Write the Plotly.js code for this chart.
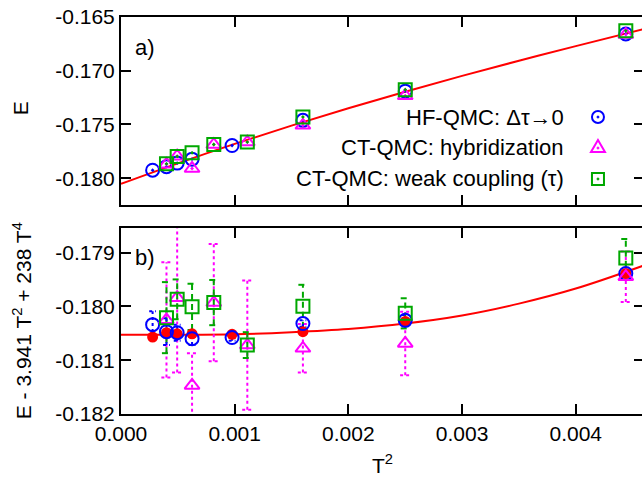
<!DOCTYPE html>
<html><head><meta charset="utf-8">
<script src="https://cdn.plot.ly/plotly-3.0.1.min.js"></script>
<style>html,body{margin:0;padding:0;overflow:hidden;background:#fff}</style>
</head><body><div id="chart"></div>
<script>
// ---- data ----
const hfT2   = [0.000278, 0.000400, 0.000494, 0.000625, 0.000977, 0.001600, 0.002500, 0.004440];
const hfE    = [-0.17926, -0.17893, -0.17860, -0.17823, -0.17696, -0.17462, -0.17190, -0.16658];
const hfRes  = [-0.18034, -0.18047, -0.18049, -0.18060, -0.18058, -0.18032, -0.18026, -0.17939];
const hfErr  = [0.00025, 0.00025, 0.00015, 0.00012, 0.00006, 0.00006, 0.00010, 0.00005];

const hybT2  = [0.000400, 0.000494, 0.000625, 0.000816, 0.001111, 0.001600, 0.002500, 0.004440];
const hybE   = [-0.17871, -0.17795, -0.17910, -0.17687, -0.17664, -0.17508, -0.17233, -0.16664];
const hybRes = [-0.18025, -0.17984, -0.18147, -0.17993, -0.18072, -0.18078, -0.18069, -0.17945];
const hybErr = [0.00107, 0.00139, 0.00060, 0.00109, 0.00120, 0.00045, 0.00059, 0.00047];

const wcT2   = [0.000400, 0.000494, 0.000625, 0.000816, 0.001111, 0.001600, 0.002500, 0.004440];
const wcE    = [-0.17867, -0.17798, -0.17764, -0.17687, -0.17664, -0.17430, -0.17177, -0.16629];
const wcRes  = [-0.18021, -0.17987, -0.18001, -0.17993, -0.18072, -0.18000, -0.18013, -0.17910];
const wcErr  = [0.00066, 0.00037, 0.00043, 0.00042, 0.00024, 0.00040, 0.00028, 0.00035];

const extT2  = [0.000278, 0.000400, 0.000494, 0.000625, 0.000977, 0.001600, 0.002500, 0.004440];
const extRes = [-0.18057, -0.18049, -0.18051, -0.18051, -0.18052, -0.18047, -0.18028, -0.17939];

const fitT2  = [0, 0.0005, 0.001, 0.0015, 0.002, 0.0025, 0.003, 0.0035, 0.004, 0.0046];
const fitE   = [-0.18053, -0.17862, -0.17681, -0.17511, -0.17349, -0.17195, -0.17048, -0.16907, -0.16771, -0.16612];
const fitRes = [-0.18053, -0.18053, -0.18052, -0.18048, -0.18042, -0.18032, -0.18017, -0.17995, -0.17967, -0.17924];

const legendLabels = ["HF-QMC: \u0394\u03c4\u21920", "CT-QMC: hybridization", "CT-QMC: weak coupling (\u03c4)"];
const xTickVals = [0, 0.001, 0.002, 0.003, 0.004];
const xTickText = ["0.000", "0.001", "0.002", "0.003", "0.004"];
const yTopTickVals = [-0.165, -0.170, -0.175, -0.180];
const yTopTickText = ["-0.165", "-0.170", "-0.175", "-0.180"];
const yBotTickVals = [-0.179, -0.180, -0.181, -0.182];
const yBotTickText = ["-0.179", "-0.180", "-0.181", "-0.182"];

// ---- styles ----
const BLUE = "#0000ff", MAG = "#ff00ff", GRN = "#00a800", RED = "#ff0000";
const FONT = "Liberation Sans, Arial, Helvetica, sans-serif";
const TFS = 21;

function errTrace(xs, ys, es, cap, color, dash, width) {
  const X = [], Y = [];
  xs.forEach((x, i) => {
    const lo = ys[i] - es[i], hi = ys[i] + es[i];
    X.push(x, x, null, x - cap, x + cap, null, x - cap, x + cap, null);
    Y.push(lo, hi, null, hi, hi, null, lo, lo, null);
  });
  return {x: X, y: Y, xaxis: "x", yaxis: "y", mode: "lines", showlegend: false, hoverinfo: "skip",
          line: {color: color, dash: dash, width: width}};
}

const traces = [
  // top panel
  {x: fitT2, y: fitE, xaxis: "x2", yaxis: "y2", mode: "lines", line: {color: RED, width: 2, shape: "spline"}, showlegend: false},
  {x: hfT2, y: hfE, xaxis: "x2", yaxis: "y2", mode: "markers", showlegend: false,
   marker: {symbol: "circle-open-dot", size: 13, color: BLUE, line: {width: 2, color: BLUE}}},
  {x: hybT2, y: hybE, xaxis: "x2", yaxis: "y2", mode: "markers", showlegend: false,
   marker: {symbol: "triangle-up-open-dot", size: 13, color: MAG, line: {width: 2, color: MAG}}},
  {x: wcT2, y: wcE, xaxis: "x2", yaxis: "y2", mode: "markers", showlegend: false,
   marker: {symbol: "square-open-dot", size: 13, color: GRN, line: {width: 2, color: GRN}}},
  // bottom panel
  {x: fitT2, y: fitRes, xaxis: "x", yaxis: "y", mode: "lines", line: {color: RED, width: 2, shape: "spline"}, showlegend: false},
  errTrace(hybT2, hybRes, hybErr, 0.000045, MAG, "dot", 2),
  errTrace(wcT2, wcRes, wcErr, 0.000040, GRN, "6px,4px", 2),
  errTrace(hfT2, hfRes, hfErr, 0.000030, BLUE, "3px,3px", 2),
  {x: extT2, y: extRes, xaxis: "x", yaxis: "y", mode: "markers", showlegend: false,
   marker: {symbol: "circle", size: 11, color: RED}},
  {x: hfT2, y: hfRes, xaxis: "x", yaxis: "y", mode: "markers", showlegend: false,
   marker: {symbol: "circle-open", size: 13, color: BLUE, line: {width: 2, color: BLUE}}},
  {x: hybT2, y: hybRes, xaxis: "x", yaxis: "y", mode: "markers", showlegend: false,
   marker: {symbol: "triangle-up-open", size: 13, color: MAG, line: {width: 2, color: MAG}}},
  {x: wcT2, y: wcRes, xaxis: "x", yaxis: "y", mode: "markers", showlegend: false,
   marker: {symbol: "square-open", size: 13, color: GRN, line: {width: 2, color: GRN}}}
];

const axisCommon = {showline: true, linecolor: "#000", linewidth: 2, mirror: "ticks", ticks: "inside",
  ticklen: 10, tickwidth: 2, tickcolor: "#000", showgrid: false, zeroline: false,
  tickfont: {family: FONT, size: TFS, color: "#000"}};

const legX = 0.851, symX = 0.912, legY = [0.748, 0.6725, 0.592];

const annotations = [
  {text: "a)", xref: "paper", yref: "paper", x: 0.022, y: 0.922, xanchor: "left", yanchor: "middle", showarrow: false, font: {family: FONT, size: 22, color: "#000"}},
  {text: "b)", xref: "paper", yref: "paper", x: 0.022, y: 0.393, xanchor: "left", yanchor: "middle", showarrow: false, font: {family: FONT, size: 22, color: "#000"}},
  {text: "E", xref: "paper", yref: "paper", x: -0.193, y: 0.77, xanchor: "center", yanchor: "middle", textangle: -90, showarrow: false, font: {family: FONT, size: 21, color: "#000"}},
  {text: "E - 3.941 T<sup>2</sup> + 238 T<sup>4</sup>", xref: "paper", yref: "paper", x: -0.189, y: 0.234, xanchor: "center", yanchor: "middle", textangle: -90, showarrow: false, font: {family: FONT, size: 21, color: "#000"}}
];
legendLabels.forEach((t, i) => annotations.push({text: t, xref: "paper", yref: "paper", x: legX, y: legY[i],
  xanchor: "right", yanchor: "middle", showarrow: false, font: {family: FONT, size: 22, color: "#000"}}));

function pshape(type, color, anchorY, extra) {
  return Object.assign({type: type, xref: "paper", yref: "paper", xsizemode: "pixel", ysizemode: "pixel",
    xanchor: symX, yanchor: anchorY, line: {color: color, width: 2}}, extra);
}
const shapes = [
  pshape("circle", BLUE, legY[0], {x0: -6, x1: 6, y0: -6, y1: 6}),
  pshape("circle", BLUE, legY[0], {x0: -1, x1: 1, y0: -1, y1: 1, fillcolor: BLUE, line: {color: BLUE, width: 1}}),
  pshape("path", MAG, legY[1], {path: "M -7 -5 L 7 -5 L 0 7 Z"}),
  pshape("circle", MAG, legY[1], {x0: -1, x1: 1, y0: -2, y1: 0, fillcolor: MAG, line: {color: MAG, width: 1}}),
  pshape("rect", GRN, legY[2], {x0: -6, x1: 6, y0: -6, y1: 6}),
  pshape("circle", GRN, legY[2], {x0: -1, x1: 1, y0: -1, y1: 1, fillcolor: GRN, line: {color: GRN, width: 1}})
];

const layout = {
  width: 650, height: 477,
  margin: {l: 121, r: 6, t: 17, b: 63},
  paper_bgcolor: "#fff", plot_bgcolor: "#fff",
  font: {family: FONT, size: 20, color: "#000"},
  showlegend: false,
  xaxis: Object.assign({}, axisCommon, {domain: [0, 1], range: [0, 0.0046], anchor: "y",
    tickvals: xTickVals, ticktext: xTickText,
    title: {text: "T<sup>2</sup>", font: {family: FONT, size: 21, color: "#000"}, standoff: 16}}),
  yaxis: Object.assign({}, axisCommon, {domain: [0, 0.4678], range: [-0.182, -0.17855], anchor: "x",
    tickvals: yBotTickVals, ticktext: yBotTickText}),
  xaxis2: Object.assign({}, axisCommon, {domain: [0, 1], range: [0, 0.0046], anchor: "y2",
    tickvals: xTickVals, showticklabels: false, matches: "x"}),
  yaxis2: Object.assign({}, axisCommon, {domain: [0.5264, 1], range: [-0.1825, -0.165], anchor: "x2",
    tickvals: yTopTickVals, ticktext: yTopTickText}),
  annotations: annotations,
  shapes: shapes
};

Plotly.newPlot("chart", traces, layout, {displayModeBar: false, staticPlot: true});
</script></body></html>
